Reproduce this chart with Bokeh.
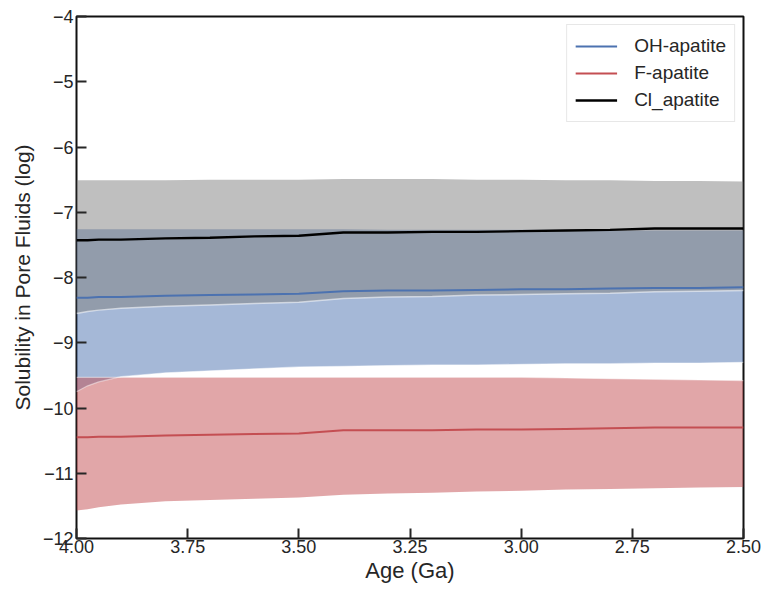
from bokeh.plotting import figure
from bokeh.models import Range1d, FixedTicker, Legend
from bokeh.embed import file_html
from bokeh.resources import INLINE

# ---- data ----
age = [4.00, 3.975, 3.95, 3.90, 3.80, 3.70, 3.60, 3.50, 3.40, 3.30, 3.20, 3.10, 3.00, 2.90, 2.80, 2.70, 2.60, 2.50]

oh_mean = [-8.31, -8.31, -8.30, -8.30, -8.28, -8.27, -8.26, -8.25, -8.21, -8.20, -8.20, -8.19, -8.18, -8.18, -8.17, -8.16, -8.16, -8.15]
oh_upper = [-7.26, -7.26, -7.26, -7.26, -7.26, -7.26, -7.26, -7.26, -7.26, -7.27, -7.27, -7.27, -7.27, -7.27, -7.28, -7.28, -7.28, -7.28]
oh_lower = [-9.75, -9.66, -9.60, -9.52, -9.46, -9.43, -9.40, -9.37, -9.36, -9.35, -9.34, -9.34, -9.33, -9.32, -9.32, -9.31, -9.31, -9.30]

f_mean = [-10.45, -10.45, -10.44, -10.44, -10.42, -10.41, -10.40, -10.39, -10.34, -10.34, -10.34, -10.33, -10.33, -10.32, -10.31, -10.30, -10.30, -10.30]
f_upper = [-9.53, -9.53, -9.53, -9.53, -9.53, -9.53, -9.53, -9.53, -9.53, -9.53, -9.53, -9.53, -9.53, -9.54, -9.55, -9.56, -9.57, -9.58]
f_lower = [-11.57, -11.55, -11.52, -11.48, -11.43, -11.41, -11.39, -11.37, -11.33, -11.31, -11.30, -11.28, -11.27, -11.25, -11.24, -11.23, -11.22, -11.21]

cl_mean = [-7.43, -7.43, -7.42, -7.42, -7.40, -7.39, -7.37, -7.36, -7.31, -7.31, -7.30, -7.30, -7.29, -7.28, -7.27, -7.25, -7.25, -7.25]
cl_upper = [-6.51, -6.51, -6.51, -6.51, -6.51, -6.50, -6.50, -6.50, -6.49, -6.49, -6.49, -6.50, -6.50, -6.51, -6.51, -6.52, -6.52, -6.53]
cl_lower = [-8.55, -8.52, -8.50, -8.47, -8.44, -8.42, -8.40, -8.38, -8.32, -8.30, -8.29, -8.27, -8.26, -8.25, -8.24, -8.22, -8.21, -8.20]

series_names = ["OH-apatite", "F-apatite", "Cl_apatite"]

x_ticks = [4.00, 3.75, 3.50, 3.25, 3.00, 2.75, 2.50]
x_tick_labels = ["4.00", "3.75", "3.50", "3.25", "3.00", "2.75", "2.50"]
y_ticks = [-12, -11, -10, -9, -8, -7, -6, -5, -4]
y_tick_labels = ["\u221212", "\u221211", "\u221210", "\u22129", "\u22128", "\u22127", "\u22126", "\u22125", "\u22124"]

FONT = "Liberation Sans"
TXT = "#262626"
BLUE = "#4C72B0"
RED = "#C44E52"

p = figure(width=765, height=590, output_backend="svg", toolbar_location=None,
           x_range=Range1d(4.0, 2.5), y_range=Range1d(-12, -4),
           min_border_left=76, min_border_right=22, min_border_top=16, min_border_bottom=52)
p.background_fill_color = "white"
p.border_fill_color = "white"
p.grid.visible = False
p.outline_line_color = "#111111"
p.outline_line_width = 2
p.outline_line_alpha = 1.0

# bands
p.varea(x=age, y1=oh_lower, y2=oh_upper, fill_color=BLUE, fill_alpha=0.5)
p.varea(x=age, y1=f_lower, y2=f_upper, fill_color=RED, fill_alpha=0.5)
p.varea(x=age, y1=cl_lower, y2=cl_upper, fill_color="#808080", fill_alpha=0.5)

# light seams along band edges
p.line(age, cl_lower, line_color="white", line_alpha=0.55, line_width=1.5)
p.line(age, oh_lower, line_color="white", line_alpha=0.45, line_width=1.2)
p.line(age, f_upper, line_color="white", line_alpha=0.45, line_width=1.2)

# lines
l1 = p.line(age, oh_mean, line_color=BLUE, line_width=2)
l2 = p.line(age, f_mean, line_color=RED, line_width=2)
l3 = p.line(age, cl_mean, line_color="black", line_width=2.4)

legend = Legend(items=[(series_names[0], [l1]), (series_names[1], [l2]), (series_names[2], [l3])],
                location="top_right", margin=8, padding=8, spacing=1,
                glyph_width=42, glyph_height=26, label_height=26, label_standoff=17,
                label_text_font=FONT, label_text_font_size="19px", label_text_color=TXT,
                border_line_color="#d0d0d0", border_line_width=1,
                background_fill_color="white", background_fill_alpha=0.85)
p.add_layout(legend, "center")

# axes
for ax in (p.xaxis[0], p.yaxis[0]):
    ax.axis_line_color = None
    ax.major_tick_in = 10
    ax.major_tick_out = 0
    ax.minor_tick_in = 0
    ax.minor_tick_out = 0
    ax.major_tick_line_color = TXT
    ax.major_tick_line_width = 2
    ax.major_label_text_font = FONT
    ax.major_label_text_font_size = "18px"
    ax.major_label_text_color = TXT
    ax.axis_label_text_font = FONT
    ax.axis_label_text_font_size = "21px"
    ax.axis_label_text_font_style = "normal"
    ax.axis_label_text_color = TXT

p.xaxis[0].ticker = FixedTicker(ticks=x_ticks)
p.xaxis[0].major_label_overrides = {t: s for t, s in zip(x_ticks, x_tick_labels)}
p.xaxis[0].axis_label = "Age (Ga)"
p.xaxis[0].axis_label_text_font_size = "22px"
p.xaxis[0].major_label_standoff = 1
p.xaxis[0].axis_label_standoff = 2

p.yaxis[0].ticker = FixedTicker(ticks=y_ticks)
p.yaxis[0].major_label_overrides = {t: s for t, s in zip(y_ticks, y_tick_labels)}
p.yaxis[0].axis_label = "Solubility in Pore Fluids (log)"
p.yaxis[0].major_label_standoff = 3
p.yaxis[0].axis_label_standoff = 6

open("out.html", "w").write(file_html(p, INLINE))
